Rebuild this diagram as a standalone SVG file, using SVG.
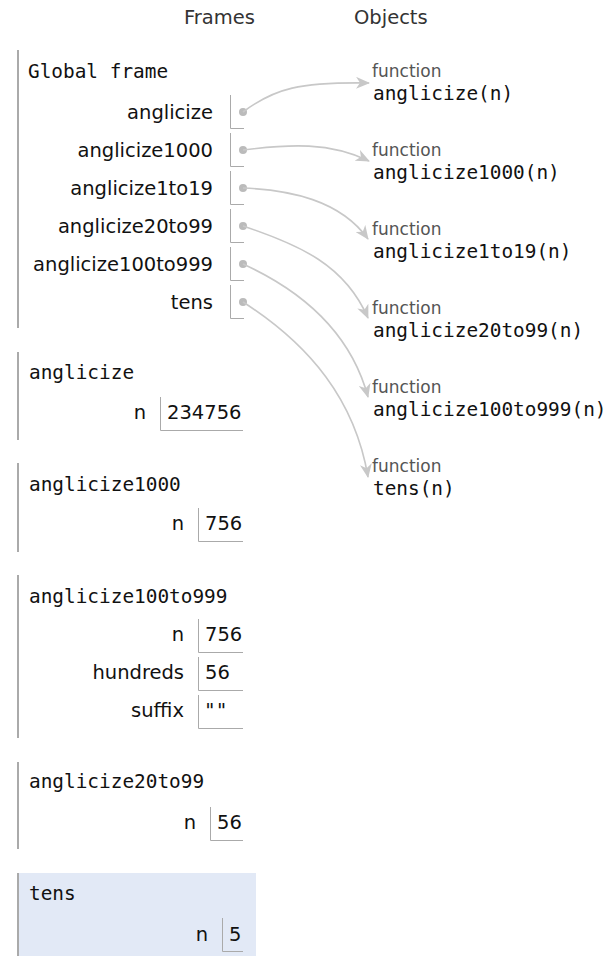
<svg xmlns="http://www.w3.org/2000/svg" width="611" height="956" viewBox="0 0 611 956">
<style>
.hdr{font-family:"DejaVu Sans",sans-serif;font-size:19.5px;fill:#333}
.lbl{font-family:"DejaVu Sans",sans-serif;font-size:19.5px;fill:#111;text-anchor:end}
.val{font-family:"DejaVu Sans",sans-serif;font-size:19.5px;fill:#111}
.mono{font-family:"DejaVu Sans Mono",monospace;font-size:19.4px;fill:#111}
.fn{font-family:"DejaVu Sans",sans-serif;font-size:17px;fill:#555}
.fline{stroke:#aaa;stroke-width:2;fill:none}
.box{stroke:#aaa;stroke-width:1;fill:none}
.dot{fill:#bbb}
.conn{stroke:#c8c8c8;stroke-width:1.6;fill:none;marker-end:url(#arr)}
</style>
<defs>
<marker id="arr" markerUnits="userSpaceOnUse" viewBox="0 0 14 12" refX="13" refY="6" markerWidth="14" markerHeight="12" orient="auto">
<path d="M0,0 L14,6 L0,12 L4,6 Z" fill="#c8c8c8"/>
</marker>
</defs>
<text class="hdr" x="219.5" y="24" text-anchor="middle">Frames</text>
<text class="hdr" x="354" y="24">Objects</text>

<g id="global-frame">
<line class="fline" x1="18" y1="50" x2="18" y2="328"/>
<text class="mono" x="28" y="78">Global frame</text>
<text class="lbl" x="213" y="119">anglicize</text>
<path class="box" d="M230.5,95 V128.5 H244"/>
<circle class="dot" cx="243" cy="112" r="4"/>
<text class="lbl" x="213" y="157">anglicize1000</text>
<path class="box" d="M230.5,133 V166.5 H244"/>
<circle class="dot" cx="243" cy="150" r="4"/>
<text class="lbl" x="213" y="195">anglicize1to19</text>
<path class="box" d="M230.5,171 V204.5 H244"/>
<circle class="dot" cx="243" cy="188" r="4"/>
<text class="lbl" x="213" y="233">anglicize20to99</text>
<path class="box" d="M230.5,209 V242.5 H244"/>
<circle class="dot" cx="243" cy="226" r="4"/>
<text class="lbl" x="213" y="271">anglicize100to999</text>
<path class="box" d="M230.5,247 V280.5 H244"/>
<circle class="dot" cx="243" cy="264" r="4"/>
<text class="lbl" x="213" y="309">tens</text>
<path class="box" d="M230.5,285 V318.5 H244"/>
<circle class="dot" cx="243" cy="302" r="4"/>
</g>

<g id="frame-anglicize">
<line class="fline" x1="18" y1="352" x2="18" y2="440"/>
<text class="mono" x="29" y="379">anglicize</text>
<text class="lbl" x="146" y="419">n</text>
<path class="box" d="M160.5,397 V430.5 H243"/>
<text class="val" x="167" y="419">234756</text>
</g>

<g id="frame-anglicize1000">
<line class="fline" x1="18" y1="463" x2="18" y2="552"/>
<text class="mono" x="29" y="491">anglicize1000</text>
<text class="lbl" x="184" y="530">n</text>
<path class="box" d="M198.5,508 V541.5 H243"/>
<text class="val" x="205" y="530">756</text>
</g>

<g id="frame-anglicize100to999">
<line class="fline" x1="18" y1="575" x2="18" y2="738"/>
<text class="mono" x="29" y="603">anglicize100to999</text>
<text class="lbl" x="184" y="641">n</text>
<path class="box" d="M198.5,619 V652.5 H243"/>
<text class="val" x="205" y="641">756</text>
<text class="lbl" x="184" y="679">hundreds</text>
<path class="box" d="M198.5,657 V690.5 H243"/>
<text class="val" x="205" y="679">56</text>
<text class="lbl" x="184" y="717">suffix</text>
<path class="box" d="M198.5,695 V728.5 H243"/>
<text class="mono" x="204" y="717">""</text>
</g>

<g id="frame-anglicize20to99">
<line class="fline" x1="18" y1="762" x2="18" y2="849"/>
<text class="mono" x="29" y="788">anglicize20to99</text>
<text class="lbl" x="196" y="829">n</text>
<path class="box" d="M210.5,807 V840.5 H243"/>
<text class="val" x="217" y="829">56</text>
</g>

<g id="frame-tens">
<rect x="17" y="873" width="239" height="83" fill="#e2e9f6"/>
<line class="fline" x1="18" y1="873" x2="18" y2="956"/>
<text class="mono" x="29" y="900">tens</text>
<text class="lbl" x="208" y="941">n</text>
<path class="box" d="M222.5,918 V951.5 H243"/>
<text class="val" x="229" y="941">5</text>
</g>

<g id="obj-anglicize">
<text class="fn" x="372" y="77">function</text>
<text class="mono" x="373" y="100">anglicize(n)</text>
</g>
<g id="obj-anglicize1000">
<text class="fn" x="372" y="156">function</text>
<text class="mono" x="373" y="179">anglicize1000(n)</text>
</g>
<g id="obj-anglicize1to19">
<text class="fn" x="372" y="235">function</text>
<text class="mono" x="373" y="258">anglicize1to19(n)</text>
</g>
<g id="obj-anglicize20to99">
<text class="fn" x="372" y="314">function</text>
<text class="mono" x="373" y="337">anglicize20to99(n)</text>
</g>
<g id="obj-anglicize100to999">
<text class="fn" x="372" y="393">function</text>
<text class="mono" x="373" y="416">anglicize100to999(n)</text>
</g>
<g id="obj-tens">
<text class="fn" x="372" y="472">function</text>
<text class="mono" x="373" y="495">tens(n)</text>
</g>

<g id="connectors">
<path class="conn" d="M243,112 C275,88 300,82 369,83"/>
<path class="conn" d="M243,150 C290,144 330,142 369,161"/>
<path class="conn" d="M243,188 C290,190 340,200 368,239"/>
<path class="conn" d="M243,226 C300,245 345,265 368,318"/>
<path class="conn" d="M243,264 C300,290 350,330 368,397"/>
<path class="conn" d="M243,302 C310,345 355,400 368,477"/>
</g>
</svg>
